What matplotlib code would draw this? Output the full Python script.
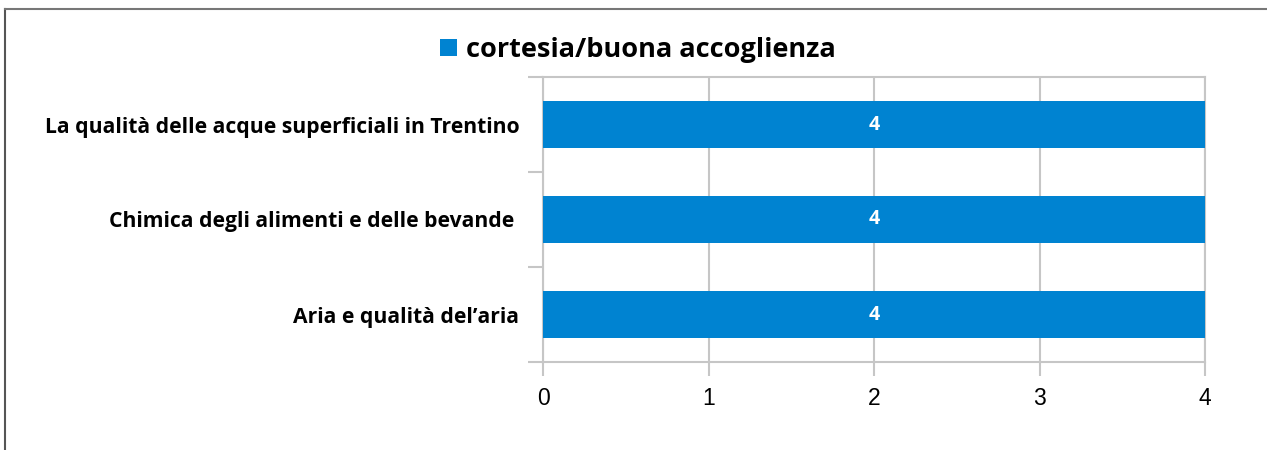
import matplotlib.pyplot as plt
from matplotlib.lines import Line2D

# data (top to bottom as shown)
categories = ["La qualità delle acque superficiali in Trentino",
              "Chimica degli alimenti e delle bevande ",
              "Aria e qualità del\u2019aria"]
values = [4, 4, 4]
series_name = "cortesia/buona accoglienza"
xticks = [0, 1, 2, 3, 4]

bar_color = "#0083d1"
grid_color = "#c6c6c6"
label_font = "Open Sans"

fig = plt.figure(figsize=(12.67, 4.5), dpi=100)
ax = fig.add_axes([543 / 1267, 88 / 450, 662 / 1267, 285 / 450])

pos = list(range(len(categories)))[::-1]
bars = ax.barh(pos, values, height=0.505, color=bar_color, zorder=3,
               label=series_name)

for b, v in zip(bars, values):
    ax.text(b.get_x() + b.get_width() / 2, b.get_y() + b.get_height() / 2,
            str(v), ha="center", va="center", color="white",
            fontsize=14, fontweight="bold", family=label_font, zorder=4)

ax.set_xlim(0, 4)
ax.set_ylim(-0.5, len(categories) - 0.5)
ax.set_xticks(xticks)
ax.set_xticklabels([str(t) for t in xticks], fontsize=16.5,
                   family="Liberation Sans")
ax.xaxis.grid(True, color=grid_color, lw=1.5, zorder=0)

ax.set_yticks(pos)
ax.set_yticklabels(categories, fontsize=15.2, fontweight="bold",
                   family=label_font)
ax.set_yticks([p - 0.5 for p in range(len(categories) + 1)], minor=True)
ax.tick_params(axis="y", which="major", length=0, pad=17)
ax.tick_params(axis="y", which="minor", length=11, color=grid_color, width=1.5)
ax.tick_params(axis="x", length=10, color=grid_color, width=1.5, pad=8)

for s in ax.spines.values():
    s.set_color(grid_color)
    s.set_linewidth(1.5)

leg = fig.legend(loc="center", bbox_to_anchor=(638 / 1267, 1 - 50 / 450),
                 frameon=False, handlelength=0.6, handleheight=0.55,
                 handletextpad=0.35, prop={"family": label_font,
                                           "weight": "bold", "size": 19.5})

# outer chart border (left and top visible)
fig.add_artist(Line2D([4.5 / 1267, 4.5 / 1267], [0, 1 - 8.5 / 450],
                      color="#555555", lw=1.5, transform=fig.transFigure))
fig.add_artist(Line2D([4.5 / 1267, 1], [1 - 8.5 / 450, 1 - 8.5 / 450],
                      color="#777777", lw=1.5, transform=fig.transFigure))

fig.savefig("out.png", dpi=100)
